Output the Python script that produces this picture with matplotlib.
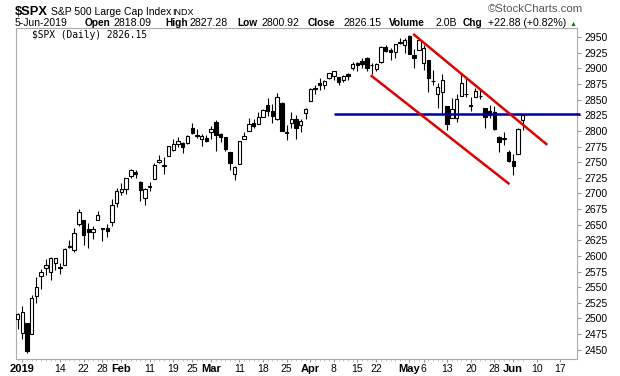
import numpy as np
import pandas as pd
import matplotlib
matplotlib.use("Agg")
import matplotlib.pyplot as plt

plt.rcParams["font.family"] = ["Liberation Sans", "DejaVu Sans"]

# daily OHLC, Dec 31 2018 .. Jun 5 2019
opens = [2498.94,
         2476.96, 2491.92, 2474.33, 2535.61, 2568.11, 2580.00, 2573.51, 2588.11, 2580.31, 2585.10,
         2614.75, 2609.28, 2651.27, 2657.88, 2643.48, 2638.84, 2657.44, 2644.97, 2644.89, 2653.62,
         2685.49,
         2702.32, 2706.49, 2728.34, 2735.05, 2717.53, 2692.36, 2712.40, 2722.61, 2750.30, 2743.50,
         2760.24, 2769.28, 2779.05, 2780.67, 2780.67, 2804.35, 2792.36, 2787.50, 2788.11,
         2798.22, 2814.37, 2794.41, 2790.27, 2766.53, 2730.79, 2747.61, 2787.34, 2799.78, 2812.65,
         2810.79, 2822.61, 2840.76, 2831.34, 2819.72, 2844.52, 2796.01, 2812.66, 2819.72, 2809.40,
         2828.27,
         2848.63, 2868.24, 2876.09, 2873.99, 2884.16, 2888.46, 2886.58, 2881.37, 2891.92, 2900.86,
         2908.32, 2912.26, 2916.04, 2904.81, 2898.78, 2909.99, 2934.00, 2928.99, 2925.81, 2940.58,
         2937.14,
         2952.33, 2922.16, 2929.21, 2908.89, 2913.03, 2879.61, 2859.84, 2863.10, 2840.19, 2820.12,
         2820.38, 2855.80, 2858.60, 2841.94, 2854.02, 2856.06, 2836.70, 2832.41, 2830.03, 2790.25,
         2786.94, 2766.15,
         2751.53, 2762.64, 2818.09]
highs = [2509.24,
         2519.49, 2493.14, 2538.07, 2566.16, 2579.82, 2595.32, 2597.82, 2596.27, 2589.32, 2613.08,
         2625.76, 2645.06, 2675.47, 2657.88, 2653.19, 2647.20, 2672.38, 2644.97, 2650.93, 2690.44,
         2708.95,
         2716.66, 2724.99, 2738.98, 2738.08, 2719.32, 2708.07, 2718.05, 2748.19, 2761.85, 2757.90,
         2775.66, 2787.33, 2789.88, 2781.58, 2794.20, 2813.49, 2803.12, 2795.76, 2793.73,
         2808.02, 2816.88, 2796.44, 2790.27, 2766.53, 2744.13, 2784.00, 2798.32, 2821.24, 2819.72,
         2830.73, 2835.41, 2852.42, 2843.54, 2860.31, 2846.16, 2809.79, 2829.87, 2825.56, 2819.71,
         2836.03,
         2869.40, 2872.90, 2885.25, 2881.28, 2893.24, 2895.95, 2886.88, 2889.71, 2893.42, 2910.54,
         2909.60, 2916.06, 2918.00, 2908.40, 2909.51, 2936.31, 2936.83, 2933.10, 2939.88, 2949.52,
         2948.22,
         2954.13, 2931.68, 2947.85, 2937.32, 2913.03, 2897.96, 2875.97, 2891.31, 2840.19, 2852.54,
         2858.68, 2892.15, 2885.48, 2853.86, 2868.88, 2865.47, 2836.70, 2841.36, 2840.51, 2792.03,
         2799.00, 2768.98,
         2763.07, 2804.49, 2827.28]
lows = [2482.82,
        2467.47, 2443.96, 2474.33, 2524.56, 2547.56, 2568.89, 2562.02, 2577.40, 2570.41, 2585.10,
        2612.68, 2606.36, 2647.58, 2617.27, 2612.86, 2627.01, 2657.33, 2624.06, 2631.05, 2648.34,
        2678.65,
        2696.88, 2698.75, 2724.03, 2724.15, 2687.26, 2681.83, 2703.79, 2722.61, 2748.63, 2731.23,
        2760.24, 2767.29, 2774.06, 2764.55, 2779.11, 2794.99, 2789.47, 2775.13, 2782.51,
        2787.38, 2767.66, 2782.97, 2768.69, 2737.41, 2722.27, 2747.61, 2786.73, 2799.78, 2804.58,
        2810.79, 2821.99, 2823.27, 2812.43, 2817.38, 2800.47, 2785.02, 2803.99, 2787.72, 2798.77,
        2819.23,
        2848.63, 2858.75, 2865.17, 2867.14, 2882.99, 2880.78, 2873.33, 2879.13, 2881.99, 2898.37,
        2896.48, 2900.71, 2895.45, 2891.90, 2896.35, 2908.53, 2926.05, 2912.84, 2917.56, 2939.35,
        2924.11,
        2923.36, 2900.50, 2929.21, 2898.21, 2862.60, 2873.28, 2836.40, 2825.39, 2801.43, 2820.12,
        2815.08, 2855.80, 2854.23, 2831.29, 2854.02, 2851.11, 2805.49, 2820.19, 2801.58, 2766.06,
        2776.74, 2750.52,
        2728.81, 2762.64, 2800.92]
closes = [2506.85,
          2510.03, 2447.89, 2531.94, 2549.69, 2574.41, 2584.96, 2596.64, 2596.26, 2582.61, 2610.30,
          2616.10, 2635.96, 2670.71, 2632.90, 2638.70, 2642.33, 2664.76, 2643.85, 2640.00, 2681.05,
          2704.10,
          2706.53, 2724.87, 2737.70, 2731.61, 2706.05, 2707.88, 2709.80, 2744.73, 2753.03, 2745.73,
          2775.60, 2779.76, 2784.70, 2774.88, 2792.67, 2796.11, 2793.90, 2792.38, 2784.49,
          2803.69, 2792.81, 2789.65, 2771.45, 2748.93, 2743.07, 2783.30, 2791.52, 2810.92, 2808.48,
          2822.48, 2832.94, 2832.57, 2824.23, 2854.88, 2800.71, 2798.36, 2818.46, 2805.37, 2815.44,
          2834.40,
          2867.19, 2867.24, 2873.40, 2879.39, 2892.74, 2895.77, 2878.20, 2888.21, 2888.32, 2907.41,
          2905.58, 2907.06, 2900.45, 2905.03, 2907.97, 2933.68, 2927.25, 2926.17, 2939.88, 2943.03,
          2945.83,
          2923.73, 2917.52, 2945.64, 2932.47, 2884.05, 2879.42, 2870.72, 2881.40, 2811.87, 2834.41,
          2850.96, 2876.32, 2859.53, 2840.23, 2864.36, 2856.27, 2822.24, 2826.06, 2802.39, 2783.02,
          2788.86, 2752.06,
          2744.45, 2803.27, 2826.15]

holidays = ["2019-01-01", "2019-01-21", "2019-02-18", "2019-04-19", "2019-05-27"]

tick_dates = ["2019-01-02", "2019-01-14", "2019-01-22", "2019-01-28", "2019-02-01",
              "2019-02-11", "2019-02-19", "2019-02-25", "2019-03-01", "2019-03-11",
              "2019-03-18", "2019-03-25", "2019-04-01", "2019-04-08", "2019-04-15",
              "2019-04-22", "2019-05-01", "2019-05-06", "2019-05-13", "2019-05-20",
              "2019-05-28", "2019-06-03", "2019-06-10", "2019-06-17"]
tick_labels = ["2019", "14", "22", "28", "Feb", "11", "19", "25", "Mar", "11", "18", "25",
               "Apr", "8", "15", "22", "May", "6", "13", "20", "28", "Jun", "10", "17"]

# analyst lines: (date, price)
support_level = 2827
support_start = "2019-04-08"
upper_channel = [("2019-05-02", 2954), ("2019-06-12", 2779)]
lower_channel = [("2019-04-18", 2888), ("2019-05-31", 2716)]

# trading day calendar (extended into the future for the axis)
days = pd.bdate_range("2018-12-31", "2019-06-28", freq="C", holidays=holidays)
pos = {d.strftime("%Y-%m-%d"): i for i, d in enumerate(days)}
x = np.arange(len(closes))

o = np.array(opens)
h = np.array(highs)
l = np.array(lows)
c = np.array(closes)
up = c >= o

fig = plt.figure(figsize=(6.2, 3.76), dpi=100)
W, H = 620.0, 376.0
ax = fig.add_axes([16 / W, 1 - 359 / H, (577 - 16) / W, (359 - 28.5) / H])

ax.vlines(x, l, h, color="black", linewidth=0.8, zorder=2)
body_lo = np.minimum(o, c)
body_h = np.maximum(np.abs(c - o), 0.6)
ax.bar(x[up], body_h[up], bottom=body_lo[up], width=0.72, facecolor="white",
       edgecolor="black", linewidth=0.8, zorder=3)
ax.bar(x[~up], body_h[~up], bottom=body_lo[~up], width=0.72, facecolor="black",
       edgecolor="black", linewidth=0.8, zorder=3)

xmax = 118.5

# horizontal level and the down channel
ax.plot([pos[support_start], xmax + 0.6], [support_level, support_level], color="#000099",
        linewidth=1.8, zorder=4, clip_on=False, solid_capstyle="butt")
for line in (upper_channel, lower_channel):
    ax.plot([pos[d] for d, _ in line], [p for _, p in line], color="#e00000",
            linewidth=1.8, zorder=4)

ax.set_xlim(-0.32, xmax)
ax.set_ylim(2435, 2964)

ax.yaxis.tick_right()
ax.set_yticks(np.arange(2450, 2951, 25))
ax.tick_params(axis="y", labelsize=7.5, length=3, color="#999999", pad=2)

ax.set_xticks([pos[d] for d in tick_dates])
ax.set_xticklabels(tick_labels)
ax.set_xticks(x, minor=True)
ax.tick_params(axis="x", labelsize=7.5, length=2, color="#999999", pad=1.5)
ax.tick_params(axis="x", which="minor", length=1.2, color="#bbbbbb")
for lab in ax.get_xticklabels():
    if not lab.get_text().isdigit() or lab.get_text() == "2019":
        lab.set_fontweight("bold")
        lab.set_fontsize(8)

for s in ax.spines.values():
    s.set_color("#aaaaaa")
    s.set_linewidth(0.8)


def ftxt(px, py, s, **kw):
    fig.text(px / W, 1 - py / H, s, va="baseline", ha="left", **kw)


ftxt(15, 15, "$SPX", fontsize=9.3, fontweight="bold")
ftxt(51, 15, "S&P 500 Large Cap Index", fontsize=7.5)
ftxt(172, 15, "INDX", fontsize=6.5)
ftxt(488, 12, "\u00a9StockCharts.com", fontsize=8.2, color="#555555")

ftxt(15, 26.5, "5-Jun-2019", fontsize=7.5)
row = [(85, "Open", True), (113, "2818.09", False), (165, "High", True),
       (190, "2827.28", False), (237, "Low", True), (262, "2800.92", False),
       (308, "Close", True), (344, "2826.15", False), (389, "Volume", True),
       (435, "2.0B", False), (463, "Chg", True), (488, "+22.88 (+0.82%)", False)]
for px_, s, b in row:
    ftxt(px_, 26.5, s, fontsize=7.3 if b else 7.6, fontweight="bold" if b else "normal")
ftxt(570, 25.5, "\u25b2", fontsize=5, color="#008000")

ftxt(32, 37.5, "$SPX (Daily) 2826.15", fontsize=6.9, family=["DejaVu Sans Mono"])

fig.savefig("out.png", dpi=100)
